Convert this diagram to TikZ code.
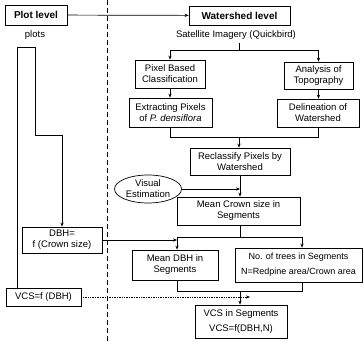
\documentclass[tikz,border=0pt]{standalone}
\usepackage{fontspec}
\setmainfont{Liberation Sans}
\usetikzlibrary{arrows.meta,shapes.geometric}
\begin{document}
\begin{tikzpicture}[x=1pt,y=-1pt,
  every node/.style={font=\fontsize{9.5}{11}\selectfont},
  box/.style={draw, line width=0.7pt, align=center, inner sep=0pt},
  titlebox/.style={draw, line width=0.8pt, align=center, inner sep=0pt, font=\fontsize{10}{12}\selectfont\bfseries},
  ln/.style={line width=0.7pt},
  arr/.style={line width=0.7pt, -{Stealth[length=4pt,width=3.2pt]}}]
\useasboundingbox (0,0) rectangle (364,342);
\fill[white] (0,0) rectangle (364,342);
\draw[line width=0.7pt, dash pattern=on 5pt off 3pt] (107,0) -- (107,342);
% titles
\node[titlebox, minimum width=62pt, minimum height=20pt] (plot) at (36,15) {Plot level};
\node[titlebox, minimum width=101pt, minimum height=19pt] (water) at (239.5,15.5) {Watershed level};
\draw[arr] (plot) -- (water);
\node (sat) at (236,35) {Satellite Imagery (Quickbird)};
\node (plots) at (35,35) {plots};
% boxes
\node[box, minimum width=70pt, minimum height=28pt] (pbc) at (170,74) {Pixel Based\\Classification};
\node[box, minimum width=83pt, minimum height=29pt] (ext) at (170.5,112.5) {Extracting Pixels\\of \textit{P. densiflora}};
\node[box, minimum width=69pt, minimum height=27pt] (aot) at (318.5,75.5) {Analysis of\\Topography};
\node[box, minimum width=82pt, minimum height=28pt] (del) at (318,113) {Delineation of\\Watershed};
\node[box, minimum width=100pt, minimum height=27pt] (recl) at (240,161.5) {Reclassify Pixels by\\Watershed};
\node[box, minimum width=123pt, minimum height=28pt] (meancrown) at (238.5,211) {Mean Crown size in\\Segments};
\node[draw, ellipse, line width=0.7pt, align=center, inner sep=0pt, minimum width=67pt, minimum height=28pt] (visual) at (148,189) {Visual\\Estimation};
\node[box, minimum width=80pt, minimum height=26pt] (dbhf) at (62,240) {DBH=\\f (Crown size)};
\node[box, minimum width=86pt, minimum height=30pt] (meandbh) at (175,265) {Mean DBH in\\Segments};
\node[box, minimum width=127pt, minimum height=34pt, font=\fontsize{9}{11}\selectfont] (notrees) at (298.5,265) {No. of trees in Segments\\[4pt]N=Redpine area/Crown area};
\node[box, minimum width=75pt, minimum height=18pt] (vcsf) at (43.5,297) {VCS=f (DBH)};
\node[box, minimum width=92pt, minimum height=33pt] (vcsseg) at (241,321.5) {VCS in Segments\\[4pt]VCS=f(DBH,N)};
% junction coordinates
\coordinate (j1) at (239,50);
\coordinate (j2) at (239,137);
\coordinate (j3l) at (177,237);
\coordinate (j3) at (240,237);
\coordinate (j3r) at (302,237);
\coordinate (j4) at (240,291);
\coordinate (p1) at (17,47);
\coordinate (p2) at (35,47);
\coordinate (p3) at (35,135);
\coordinate (p4) at (62,135);
\coordinate (vend) at (250,297);
% connectors
\draw[ln] (j1 |- sat.south) -- (j1);
\draw[ln] (j1 -| pbc) -- (j1 -| aot);
\draw[arr] (j1 -| pbc) -- (pbc.north);
\draw[arr] (j1 -| aot) -- (aot.north);
\draw[arr] (pbc.south) -- (pbc.south |- ext.north);
\draw[arr] (aot.south) -- (aot.south |- del.north);
\draw[ln] (ext.south) -- (ext.south |- j2) -- (del.south |- j2) -- (del.south);
\draw[arr] (j2) -- (j2 |- recl.north);
\draw[arr] (recl.south) -- (recl.south |- meancrown.north);
\draw[arr] (visual.east) -- (visual.east -| recl.south);
\draw[ln] (meancrown.south -| j3) -- (j3);
\draw[ln] (j3l) -- (j3r);
\draw[arr] (j3l) -- (j3l |- meandbh.north);
\draw[arr] (j3r) -- (j3r |- notrees.north);
\draw[arr] (dbhf.east) -- (dbhf.east -| j3l);
\draw[ln] (p1 |- vcsf.north) -- (p1) -- (p2) -- (p3) -- (p4);
\draw[arr] (p4) -- (p4 |- dbhf.north);
\draw[ln] (j3l |- meandbh.south) -- (j3l |- j4) -- (j3r |- j4) -- (j3r |- notrees.south);
\draw[arr] (j4) -- (j4 |- vcsseg.north);
\draw[arr, densely dotted] (vcsf.east) -- (vend);
\end{tikzpicture}
\end{document}
